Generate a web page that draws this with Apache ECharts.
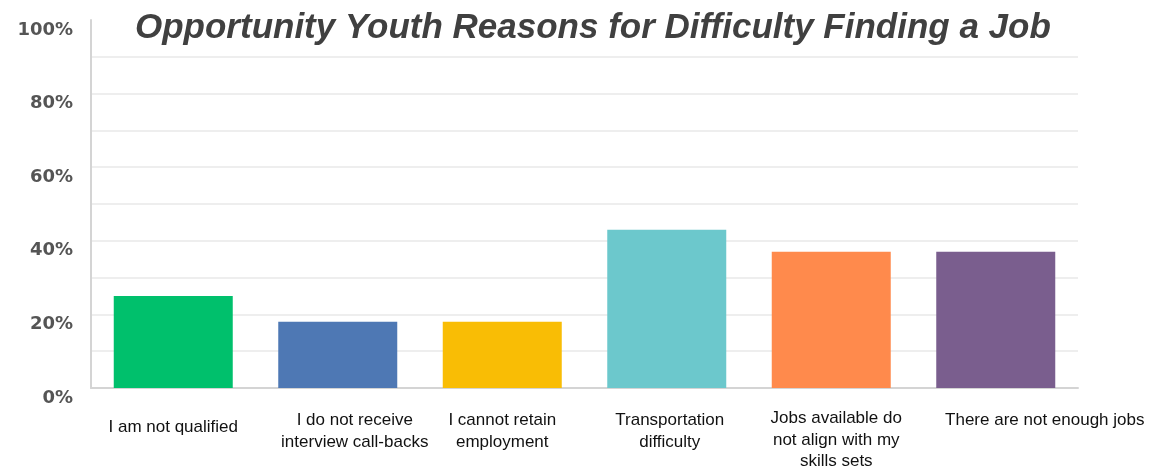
<!DOCTYPE html>
<html><head><meta charset="utf-8">
<script src="https://cdn.jsdelivr.net/npm/echarts@6/dist/echarts.min.js"></script>
<style>html,body{margin:0;padding:0;background:#fff}#c{width:1173px;height:469px}</style>
</head><body><div id="c"></div>
<script>
const titleText = 'Opportunity Youth Reasons for Difficulty Finding a Job';
const categories = [
  'I am not qualified',
  'I do not receive\ninterview call-backs',
  'I cannot retain\nemployment',
  'Transportation\ndifficulty',
  'Jobs available do\nnot align with my\nskills sets',
  'There are not enough jobs'
];
const values = [25, 18, 18, 43, 37, 37];
const barColors = ['#00C06C', '#4E78B4', '#F9BD05', '#6CC8CC', '#FF8A4C', '#7A5E8E'];
const yTicks = [0, 20, 40, 60, 80, 100];

// label fine-tuning (layout only)
const labelShift = [0, 34, 0, 6, 10, 98];
const labelTop = [7, 0, 0, 0, -2, 0];

const chart = echarts.init(document.getElementById('c'));
chart.setOption({
  animation: false,
  title: {
    text: titleText, left: 130, top: 6,
    textStyle: {fontFamily: 'Liberation Sans', fontStyle: 'italic', fontWeight: 'bold', fontSize: 35, color: '#404040'}
  },
  grid: {left: 91, right: 95, top: 20, bottom: 81, containLabel: false, outerBoundsMode: 'none'},
  xAxis: {
    type: 'category',
    data: categories.map((c, i) => ({value: c, textStyle: {padding: [labelTop[i], 0, 0, labelShift[i]]}})),
    axisLine: {lineStyle: {color: '#d4d4d4', width: 2}},
    axisTick: {show: false},
    axisLabel: {interval: 0, margin: 22, verticalAlign: 'top', fontFamily: 'Liberation Sans', fontSize: 17, lineHeight: 21.5, color: '#111'}
  },
  yAxis: {
    type: 'value', min: 0, max: 100, interval: 10,
    axisLine: {show: true, lineStyle: {color: '#d4d4d4', width: 2}},
    axisTick: {show: false},
    splitLine: {lineStyle: {color: ['#eeeeee','#eeeeee','#eeeeee','#eeeeee','#eeeeee','#eeeeee','#eeeeee','#eeeeee','#eeeeee','#eeeeee','rgba(0,0,0,0)'], width: 2}},
    axisLabel: {
      margin: 18, verticalAlign: 'top', lineHeight: 20,
      fontFamily: 'DejaVu Sans', fontWeight: 'bold', fontSize: 18, color: '#555',
      formatter: v => yTicks.indexOf(v) >= 0 ? v + '%' : ''
    }
  },
  series: [{
    type: 'bar',
    data: values.map((v, i) => ({value: v, itemStyle: {color: barColors[i]}})),
    barWidth: 119
  }]
});
</script></body></html>
